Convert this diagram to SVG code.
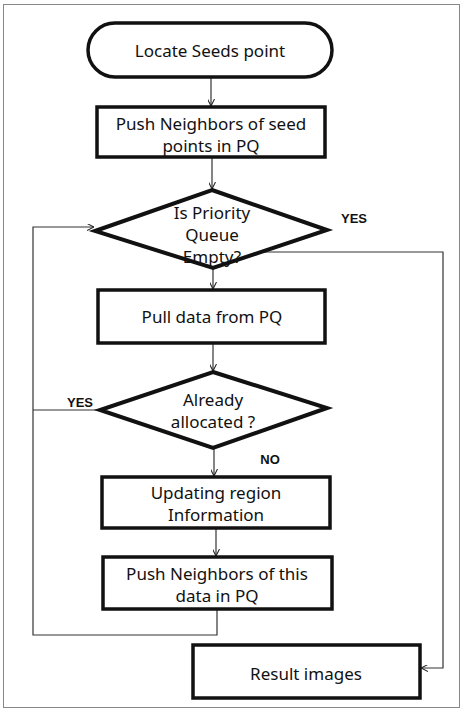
<svg xmlns="http://www.w3.org/2000/svg" width="463" height="712" viewBox="0 0 463 712">
<defs>
<marker id="ah" viewBox="0 0 10 10" refX="10" refY="5" markerWidth="7" markerHeight="7" orient="auto" markerUnits="userSpaceOnUse">
<path d="M0,0 L10,5 L0,10" fill="none" stroke="#222" stroke-width="1.5"/>
</marker>
<style>
.shape{fill:#fff;stroke:#111;stroke-width:3.5}
.dia{fill:#fff;stroke:#111;stroke-width:4;stroke-linejoin:miter}
.t{font-family:"Noto Sans","Open Sans",sans-serif;font-size:17px;fill:#111;text-anchor:middle}
.lbl{font-family:"Liberation Sans Narrow","Liberation Sans",sans-serif;font-size:13px;font-weight:bold;fill:#111;text-anchor:middle}
.c{fill:none;stroke:#333;stroke-width:1.2}
</style>
</defs>
<rect x="0" y="0" width="463" height="712" fill="#fff"/>
<rect x="3.5" y="4.5" width="456" height="703" fill="none" stroke="#888" stroke-width="1"/>
<g id="connectors">
<line class="c" x1="211" y1="77" x2="211" y2="106" marker-end="url(#ah)"/>
<line class="c" x1="212" y1="157" x2="212" y2="189" marker-end="url(#ah)"/>
<line class="c" x1="213" y1="269" x2="213" y2="289" marker-end="url(#ah)"/>
<line class="c" x1="213" y1="343" x2="213" y2="371" marker-end="url(#ah)"/>
<line class="c" x1="214" y1="448" x2="214" y2="476" marker-end="url(#ah)"/>
<line class="c" x1="216" y1="528" x2="216" y2="556" marker-end="url(#ah)"/>
<polyline class="c" points="217,609 217,635 33,635 33,227 94,227" marker-end="url(#ah)"/>
<polyline class="c" points="100,410 33,410"/>
<polyline class="c" points="262,252 443,252 443,668 421,668" marker-end="url(#ah)"/>
</g>
<g id="n1">
<rect class="shape" x="88" y="23" width="244" height="54" rx="27" ry="27"/>
<text class="t" x="210" y="57">Locate Seeds point</text>
</g>
<g id="n2">
<rect class="shape" x="97" y="107" width="228" height="50"/>
<text class="t" x="211" y="130">Push Neighbors of seed</text>
<text class="t" x="211" y="152">points in PQ</text>
</g>
<g id="n3">
<polygon class="dia" points="212,190 327,230 213,268 95,231"/>
<text class="t" x="212" y="219">Is Priority</text>
<text class="t" x="212" y="241">Queue</text>
<text class="t" x="212" y="263">Empty?</text>
</g>
<g id="n4">
<rect class="shape" x="98" y="290" width="227" height="53"/>
<text class="t" x="212" y="323">Pull data from PQ</text>
</g>
<g id="n5">
<polygon class="dia" points="213,372 327,408 213,448 100,410"/>
<text class="t" x="213" y="406">Already</text>
<text class="t" x="213" y="428">allocated ?</text>
</g>
<g id="n6">
<rect class="shape" x="102" y="477" width="228" height="51"/>
<text class="t" x="216" y="499">Updating region</text>
<text class="t" x="216" y="521">Information</text>
</g>
<g id="n7">
<rect class="shape" x="103" y="557" width="229" height="52"/>
<text class="t" x="217" y="580">Push Neighbors of this</text>
<text class="t" x="217" y="602">data in PQ</text>
</g>
<g id="n8">
<rect class="shape" x="193" y="645" width="227" height="53"/>
<text class="t" x="306" y="680">Result images</text>
</g>
<text class="lbl" x="354" y="223">YES</text>
<text class="lbl" x="80" y="407">YES</text>
<text class="lbl" x="270" y="464">NO</text>
</svg>
